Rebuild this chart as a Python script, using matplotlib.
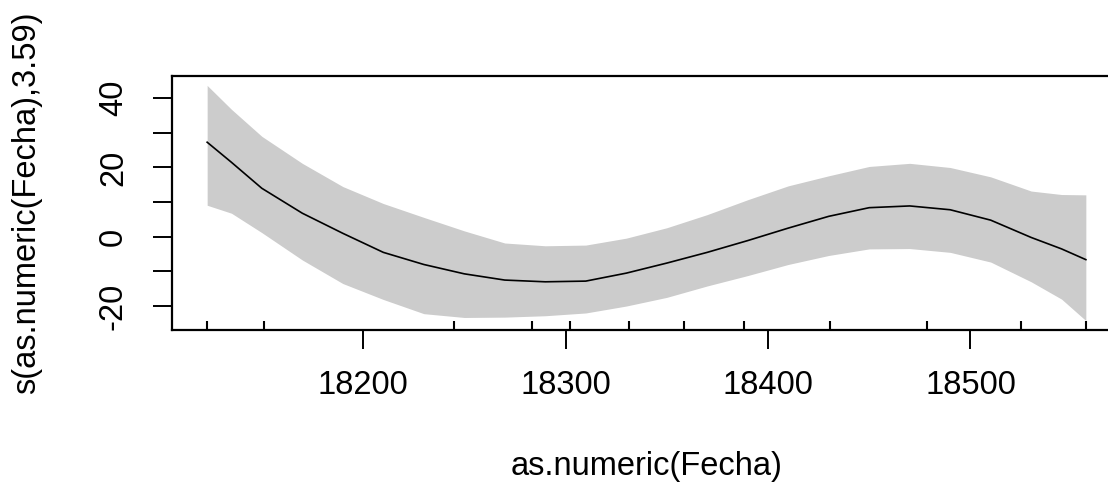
import numpy as np
import matplotlib
matplotlib.use("Agg")
import matplotlib.pyplot as plt

plt.rcParams['font.family'] = ['Liberation Sans', 'DejaVu Sans']

# Datos (efecto suavizado del GAM)
fecha = [18123, 18135, 18150, 18170, 18190, 18210, 18230, 18250, 18270, 18290,
         18310, 18330, 18350, 18370, 18390, 18410, 18430, 18450, 18470, 18490,
         18510, 18530, 18545, 18557]
ajuste = [27.3, 21.5, 14.0, 6.8, 1.0, -4.5, -8.0, -10.7, -12.5, -13.0,
          -12.8, -10.5, -7.6, -4.5, -1.1, 2.5, 5.9, 8.4, 8.9, 7.8,
          4.8, -0.2, -3.5, -6.6]
superior = [43.7, 36.8, 29.0, 21.2, 14.5, 9.6, 5.6, 1.7, -1.8, -2.6,
            -2.4, -0.4, 2.6, 6.4, 10.7, 14.7, 17.6, 20.3, 21.2, 20.0,
            17.3, 13.2, 12.2, 12.1]
inferior = [9.1, 6.8, 1.2, -6.7, -13.5, -18.1, -22.2, -23.3, -23.2, -22.8,
            -22.0, -20.0, -17.5, -14.2, -11.2, -8.0, -5.4, -3.5, -3.4, -4.5,
            -7.3, -13.0, -18.0, -24.2]
rug = [18123, 18151, 18245, 18283.5, 18302, 18331.5, 18358.5, 18388,
       18430.5, 18478.5, 18525, 18557]
xticks = [18200, 18300, 18400, 18500]
yticks = [-20, -10, 0, 10, 20, 30, 40]
yticklabels = ['-20', '', '0', '', '20', '', '40']

fig = plt.figure(figsize=(11.08, 4.87), dpi=100)
ax = fig.add_axes([172/1108, 1-330/487, (1121-172)/1108, 254/487])

ax.fill_between(fecha, inferior, superior, color='#cccccc', linewidth=0)
ax.plot(fecha, ajuste, color='black', linewidth=1.2)
# rug en la parte de abajo
ax.vlines(rug, 0, 0.035, transform=ax.get_xaxis_transform(), color='black', linewidth=1.5)

# limites como R (4% extra)
xr = max(fecha) - min(fecha)
ax.set_xlim(min(fecha) - 0.04*xr, max(fecha) + 0.04*xr)
yr = max(superior) - min(inferior)
ax.set_ylim(min(inferior) - 0.04*yr, max(superior) + 0.04*yr)

ax.set_xticks(xticks)
ax.set_xticklabels([str(t) for t in xticks])
ax.set_yticks(yticks)
ax.set_yticklabels(yticklabels, rotation=90, va='center')

for s in ax.spines.values():
    s.set_linewidth(1.6)
ax.tick_params(axis='both', length=14, width=1.4, labelsize=23.5)
ax.tick_params(axis='x', pad=15)
ax.tick_params(axis='y', pad=17)

ax.set_xlabel('as.numeric(Fecha)', fontsize=23.5, labelpad=36)
ax.set_ylabel('s(as.numeric(Fecha),3.59)', fontsize=23.5, labelpad=40)

fig.savefig('out.png', dpi=100)
